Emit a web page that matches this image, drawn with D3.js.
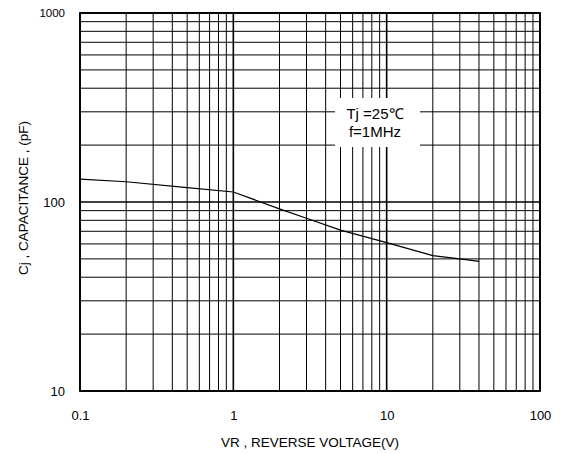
<!DOCTYPE html>
<html>
<head>
<meta charset="utf-8">
<script src="https://cdn.jsdelivr.net/npm/d3@7"></script>
<style>
  html, body { margin: 0; padding: 0; background: #fff; }
  svg { display: block; font-family: "Liberation Sans", Arial, sans-serif; }
</style>
</head>
<body>
<svg id="chart" width="561" height="454"></svg>
<script>
// Junction capacitance vs reverse voltage (Tj = 25 °C, f = 1 MHz)
const voltage = [0.1, 0.2, 0.5, 1, 2, 3, 5, 10, 20, 30, 40];
const capacitance = [132, 128, 119, 113, 92, 82, 71, 61, 52, 50, 48.5];

const xTickValues = [0.1, 1, 10, 100];
const xTickLabels = ["0.1", "1", "10", "100"];
const yTickValues = [10, 100, 1000];
const yTickLabels = ["10", "100", "1000"];

const noteLines = ["Tj =25\u2103", "f=1MHz"];
const xTitle = "VR , REVERSE VOLTAGE(V)";
const yTitle = "Cj , CAPACITANCE , (pF)";

const svg = d3.select("#chart");
const plot = { left: 80, right: 540, top: 13, bottom: 391 };

const x = d3.scaleLog().domain([0.1, 100]).range([plot.left, plot.right]);
const y = d3.scaleLog().domain([10, 1000]).range([plot.bottom, plot.top]);

// minor grid values: 1..9 in every decade
function decadeSteps(lo, hi) {
  const out = [];
  for (let d = lo; d < hi; d *= 10) {
    for (let k = 1; k <= 9; k++) out.push(d * k);
  }
  out.push(hi);
  return out;
}
const xGrid = decadeSteps(0.1, 100);
const yGrid = decadeSteps(10, 1000);

const grid = svg.append("g");
grid.selectAll("line.v").data(xGrid).join("line")
  .attr("x1", d => x(d)).attr("x2", d => x(d))
  .attr("y1", plot.top).attr("y2", plot.bottom)
  .attr("stroke", "#000")
  .attr("stroke-width", d => xTickValues.includes(d) ? 1.6 : 1);
grid.selectAll("line.h").data(yGrid).join("line")
  .attr("x1", plot.left).attr("x2", plot.right)
  .attr("y1", d => y(d)).attr("y2", d => y(d))
  .attr("stroke", "#000")
  .attr("stroke-width", d => yTickValues.includes(d) ? 1.6 : 1);

// white label box over the grid
const box = { x0: 335, x1: 420, y0: 98, y1: 147 };
svg.append("rect")
  .attr("x", box.x0).attr("y", box.y0)
  .attr("width", box.x1 - box.x0).attr("height", box.y1 - box.y0)
  .attr("fill", "#fff");
svg.append("g").selectAll("text").data(noteLines).join("text")
  .attr("x", 375).attr("y", (d, i) => 119 + i * 18)
  .attr("text-anchor", "middle")
  .attr("font-size", 15)
  .attr("fill", "#000")
  .text(d => d);

// frame
svg.append("rect")
  .attr("x", plot.left).attr("y", plot.top)
  .attr("width", plot.right - plot.left).attr("height", plot.bottom - plot.top)
  .attr("fill", "none").attr("stroke", "#000").attr("stroke-width", 1.8);

// curve
const line = d3.line().x((d, i) => x(voltage[i])).y(d => y(d));
svg.append("path")
  .datum(capacitance)
  .attr("d", line)
  .attr("fill", "none")
  .attr("stroke", "#000")
  .attr("stroke-width", 1.2);

// axes (labels only, gridlines drawn above)
const xAxis = d3.axisBottom(x).tickValues(xTickValues)
  .tickFormat((d, i) => xTickLabels[i]).tickSize(0).tickPadding(0);
const gx = svg.append("g").attr("transform", `translate(0,${plot.bottom + 29})`).call(xAxis);
gx.select(".domain").remove();
gx.selectAll("text").attr("font-size", 13).attr("fill", "#000")
  .attr("font-family", "Liberation Sans, Arial, sans-serif").attr("dy", 0);

const yAxis = d3.axisLeft(y).tickValues(yTickValues)
  .tickFormat((d, i) => yTickLabels[i]).tickSize(0).tickPadding(0);
const gy = svg.append("g").attr("transform", `translate(${plot.left - 15},0)`).call(yAxis);
gy.select(".domain").remove();
gy.selectAll("text").attr("font-size", d => d === 1000 ? 11.5 : 13).attr("fill", "#000")
  .attr("font-family", "Liberation Sans, Arial, sans-serif");

// axis titles
svg.append("text")
  .attr("x", 310).attr("y", 447)
  .attr("text-anchor", "middle")
  .attr("font-size", 13.5)
  .attr("fill", "#000")
  .text(xTitle);
svg.append("text")
  .attr("transform", "translate(28,198) rotate(-90)")
  .attr("text-anchor", "middle")
  .attr("font-size", 13.5)
  .attr("fill", "#000")
  .text(yTitle);
</script>
</body>
</html>
